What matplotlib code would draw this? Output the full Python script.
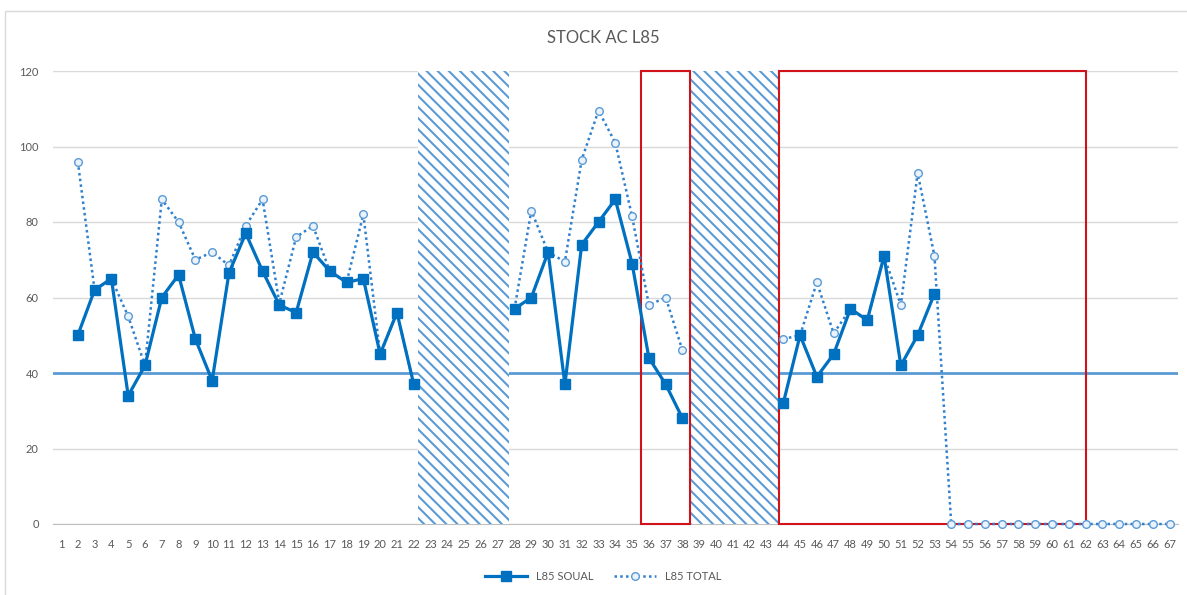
import numpy as np
import matplotlib
matplotlib.use("Agg")
import matplotlib.pyplot as plt
from matplotlib.patches import Rectangle
from matplotlib.lines import Line2D

nan = np.nan

# categories 1..67
days = list(range(1, 68))

# L85 SOUAL (solid, squares)
soual = ([nan, 50, 62, 65, 34, 42, 60, 66, 49, 38, 66.5, 77, 67, 58, 56, 72, 67, 64, 65, 45, 56, 37]
         + [nan] * 5
         + [57, 60, 72, 37, 74, 80, 86, 69, 44, 37, 28]
         + [nan] * 5
         + [32, 50, 39, 45, 57, 54, 71, 42, 50, 61]
         + [nan] * 14)

# L85 TOTAL (dotted, circles)
total = ([nan, 96, 62, 65, 55, 42, 86, 80, 70, 72, 68.5, 79, 86, 58.5, 76, 79, 67, 64, 82, 45, 56, 37]
         + [nan] * 5
         + [57, 83, 72, 69.5, 96.5, 109.5, 101, 81.5, 58, 60, 46]
         + [nan] * 5
         + [49, 50, 64, 50.5, 57, 54, 71, 58, 93, 71]
         + [0] * 14)

threshold = 40

# hatched (closed) periods and red boxes, in category units
hatched_spans = [(22.27, 27.68), (38.47, 43.74)]
red_spans = [(35.52, 38.44), (43.74, 62.0)]

W, H = 1187, 595
plt.rcParams["hatch.linewidth"] = 1.5
fig = plt.figure(figsize=(W / 100, H / 100), dpi=100)
ax = fig.add_axes([52.6 / W, 71 / H, (1178 - 52.6) / W, (524 - 71) / H])

grey = "#595959"

ax.set_xlim(0.5, 67.5)
ax.set_ylim(0, 120)
ax.set_yticks(range(0, 121, 20))
ax.set_xticks(days)
ax.set_xticklabels([str(d) for d in days])
ax.tick_params(length=0, colors=grey, labelsize=8)
ax.tick_params(axis="y", pad=10)
ax.tick_params(axis="x", pad=11)
for lab in ax.get_xticklabels() + ax.get_yticklabels():
    lab.set_family(["Lato", "DejaVu Sans"])

ax.grid(axis="y", color="#D9D9D9", lw=1, zorder=0.5)
ax.set_axisbelow(True)
for s in ["top", "left", "right"]:
    ax.spines[s].set_visible(False)
ax.spines["bottom"].set_color("#BFBFBF")
ax.spines["bottom"].set_zorder(1)

ax.axhline(threshold, color="#5B9BD5", lw=2, zorder=1.5)

for a, b in hatched_spans:
    ax.add_patch(Rectangle((a, 0), b - a, 120, facecolor="white", edgecolor="none",
                           zorder=2, clip_on=False))
    ax.add_patch(Rectangle((a, 0), b - a, 120, facecolor="none", edgecolor="#5B9BD5",
                           lw=0, hatch="\\\\\\", zorder=2.1, clip_on=False))

for a, b in red_spans:
    ax.add_patch(Rectangle((a, 0), b - a, 120, facecolor="none", edgecolor="#D0121B",
                           lw=1.5, zorder=2.5, clip_on=False))

ax.plot(days, total, color="#2F80CE", lw=1.8, ls=(0, (1, 1.3)), marker="o", ms=5.5,
        mfc="#EAF2FB", mec="#5B9BD5", mew=1, zorder=3, clip_on=False)
ax.plot(days, soual, color="#0070C0", lw=2.3, marker="s", ms=7, zorder=4)

fig.text(603 / W, 1 - 38 / H, "STOCK AC L85", ha="center", va="center", fontsize=12,
         color=grey, family=["Liberation Sans Narrow", "Lato", "DejaVu Sans"])

handles = [
    Line2D([], [], color="#0070C0", lw=2.3, marker="s", ms=7),
    Line2D([], [], color="#2F80CE", lw=1.8, ls=(0, (1, 1.3)), marker="o", ms=5.5,
           mfc="#EAF2FB", mec="#5B9BD5", mew=1),
]
leg = fig.legend(handles, ["L85 SOUAL", "L85 TOTAL"], loc="center",
                 bbox_to_anchor=(603 / W, 1 - 576 / H), ncol=2, frameon=False,
                 handlelength=3.8, columnspacing=1.8,
                 prop={"family": ["Lato", "DejaVu Sans"], "size": 8})
for t in leg.get_texts():
    t.set_color(grey)

# chart border
fig.add_artist(Rectangle((5 / W, -0.1), 1.2, 1 - 11 / H + 0.1, transform=fig.transFigure,
                         facecolor="none", edgecolor="#D9D9D9", lw=1))

fig.savefig("out.png", dpi=100)
